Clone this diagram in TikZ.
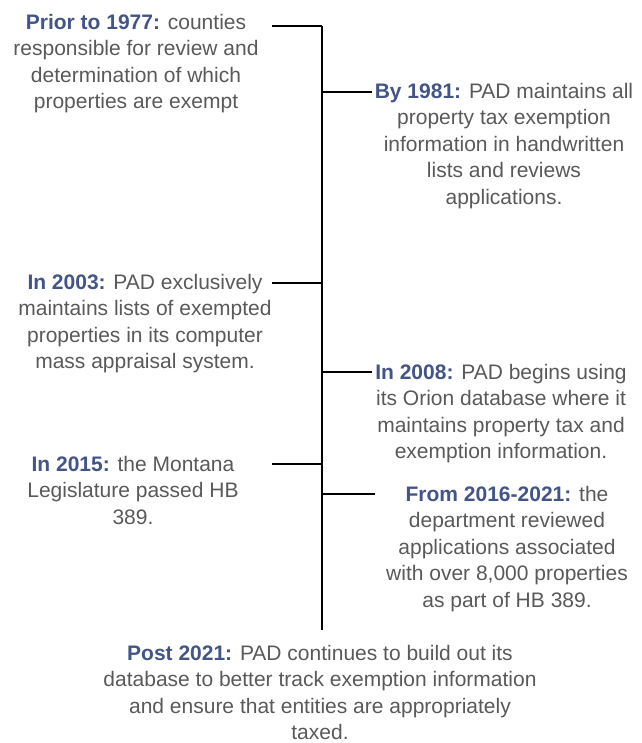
\documentclass[tikz,border=0pt]{standalone}
\usepackage{fontspec}
\setmainfont{Liberation Sans}
\definecolor{txtgray}{HTML}{595959}
\definecolor{yearblue}{HTML}{435486}
\begin{document}
\begin{tikzpicture}[x=1pt,y=-1pt,
  evt/.style={align=center, inner sep=0pt, anchor=north, text=txtgray,
    font=\fontsize{21}{26.4}\selectfont},
  conn/.style={draw=black, line width=1.3pt}]
\useasboundingbox (0,0) rectangle (641,743);
\newcommand{\yr}[1]{\textcolor{yearblue}{\textbf{#1}}}

\node[evt] (p1) at (136,14) {\yr{Prior to 1977:} counties\\responsible for review and\\determination of which\\properties are exempt};
\node[evt] (p2) at (504,83) {\yr{By 1981:} PAD maintains all\\property tax exemption\\information in handwritten\\lists and reviews\\applications.};
\node[evt] (p3) at (145,274) {\yr{In 2003:} PAD exclusively\\maintains lists of exempted\\properties in its computer\\mass appraisal system.};
\node[evt] (p4) at (501,364) {\yr{In 2008:} PAD begins using\\its Orion database where it\\maintains property tax and\\exemption information.};
\node[evt] (p5) at (133,456) {\yr{In 2015:} the Montana\\Legislature passed HB\\389.};
\node[evt] (p6) at (507,486) {\yr{From 2016-2021:} the\\department reviewed\\applications associated\\with over 8,000 properties\\as part of HB 389.};
\node[evt] (p7) at (320,645) {\yr{Post 2021:} PAD continues to build out its\\database to better track exemption information\\and ensure that entities are appropriately\\taxed.};

\coordinate (top) at (322,26);
\coordinate (bot) at (322,630);
\coordinate (c1) at (272,26);
\coordinate (c2) at (372,92);
\coordinate (c3) at (272,283);
\coordinate (c4) at (372,372);
\coordinate (c5) at (272,464);
\coordinate (c6) at (375,494);

\draw[conn] (top) -- (bot);
\draw[conn] (c1) -- (c1 -| top);
\draw[conn] (c2) -- (c2 -| top);
\draw[conn] (c3) -- (c3 -| top);
\draw[conn] (c4) -- (c4 -| top);
\draw[conn] (c5) -- (c5 -| top);
\draw[conn] (c6) -- (c6 -| top);
\end{tikzpicture}
\end{document}
